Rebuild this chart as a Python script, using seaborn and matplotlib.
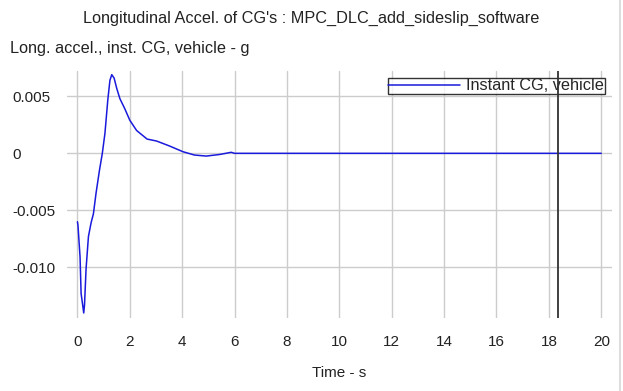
import matplotlib
matplotlib.use("Agg")
import matplotlib.pyplot as plt
from matplotlib.lines import Line2D
import seaborn as sns
import pandas as pd

time_s = [0.0, 0.02, 0.10, 0.14, 0.20, 0.24, 0.27, 0.33, 0.42, 0.52, 0.61, 0.71,
          0.84, 0.95, 1.05, 1.16, 1.24, 1.31, 1.40, 1.50, 1.62, 1.81, 2.00, 2.26,
          2.66, 3.02, 3.52, 4.03, 4.47, 4.92, 5.43, 5.87, 6.00, 10.0, 15.0, 20.0]
accel_g = [-0.0060, -0.0063, -0.0091, -0.0123, -0.0133, -0.0140, -0.0133, -0.0101,
           -0.0073, -0.0061, -0.0053, -0.0035, -0.0015, 0.0000, 0.00175, 0.0047,
           0.0064, 0.0069, 0.0066, 0.0057, 0.0048, 0.0039, 0.0029, 0.0020,
           0.00125, 0.00108, 0.00064, 0.00014, -0.00015, -0.00024, -0.0001, 0.00009,
           0.0, 0.0, 0.0, 0.0]
series_name = "Instant CG, vehicle"
x_ticks = [0, 2, 4, 6, 8, 10, 12, 14, 16, 18, 20]
y_ticks = [-0.010, -0.005, 0.0, 0.005]
y_tick_labels = ["-0.010", "-0.005", "0", "0.005"]
cursor_t = 18.35

df = pd.DataFrame({"Time": time_s, "Accel": accel_g, "Series": series_name})

sns.set_style("white")
plt.rcParams["font.family"] = ["Liberation Sans", "DejaVu Sans"]
FS = 11
FS_BIG = 11.7

fig = plt.figure(figsize=(6.23, 3.91), dpi=100)
ax = fig.add_axes([66.7/623, 1 - 318/391, (612 - 66.7)/623, (318 - 71)/391])

sns.lineplot(data=df, x="Time", y="Accel", hue="Series", palette=["#1a1adc"],
             linewidth=1.1, ax=ax, estimator=None, sort=False)

ax.set_xlim(-0.41, 20.41)
ax.set_ylim(-0.01444, 0.00722)
ax.set_xticks(x_ticks)
ax.set_xticklabels([str(v) for v in x_ticks], fontsize=FS, color="#222222")
ax.set_yticks(y_ticks)
ax.set_yticklabels(y_tick_labels, fontsize=FS, color="#222222")
for lab in ax.get_yticklabels():
    lab.set_ha("left")
ax.tick_params(axis="y", length=0, pad=54*0.72)
ax.tick_params(axis="x", length=0, pad=12)
ax.grid(True, color="#cccccc", linewidth=1.0)
ax.set_axisbelow(True)
for s in ax.spines.values():
    s.set_visible(False)

ax.set_xlabel("Time - s", fontsize=FS, color="#222222", labelpad=12.5)
ax.set_ylabel("")

ax.axvline(cursor_t, color="#333333", linewidth=1.3, zorder=10)

leg = ax.legend(loc="upper right", bbox_to_anchor=(1 - 7.5/545.3, 1 - 6.7/247),
                fontsize=FS_BIG, frameon=True, fancybox=False, borderpad=0.04,
                handlelength=4.4, handletextpad=0.37, borderaxespad=0)
leg.get_frame().set_edgecolor("black")
leg.get_frame().set_linewidth(1.0)
leg.set_title(None)

fig.text(0.5, 1 - 18/391, "Longitudinal Accel. of CG's : MPC_DLC_add_sideslip_software",
         ha="center", va="center", fontsize=FS_BIG, color="#222222")
fig.text(10/623, 1 - 48/391, "Long. accel., inst. CG, vehicle - g",
         ha="left", va="center", fontsize=FS_BIG, color="#222222")

fig.add_artist(Line2D([619.5/623, 619.5/623], [0, 1], color="#dddddd", linewidth=1.5,
                      transform=fig.transFigure))

fig.savefig("out.png", dpi=100)
